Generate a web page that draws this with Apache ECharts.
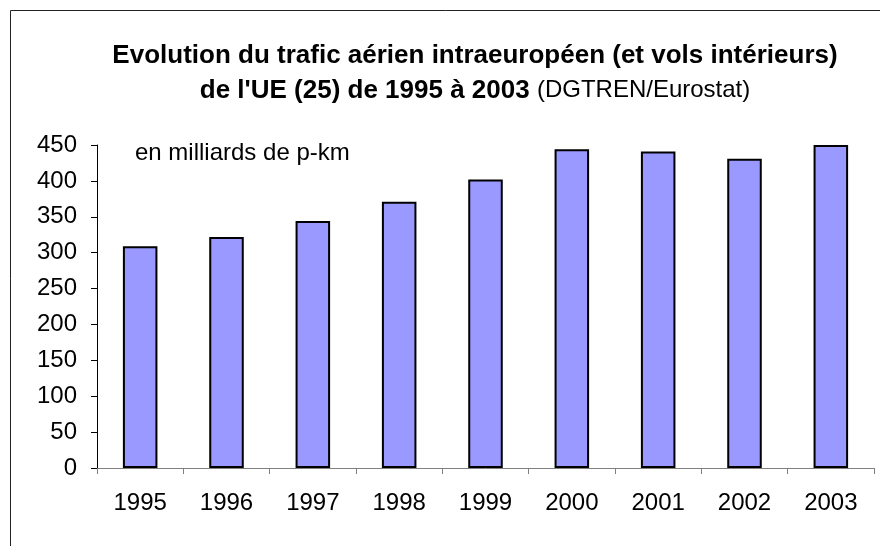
<!DOCTYPE html>
<html>
<head>
<meta charset="utf-8">
<script src="https://cdn.jsdelivr.net/npm/echarts@6/dist/echarts.min.js"></script>
<style>
  html, body { margin: 0; padding: 0; background: #fff; }
  #chart { width: 880px; height: 546px; }
</style>
</head>
<body>
<div id="chart"></div>
<script>
// données
var years = ['1995', '1996', '1997', '1998', '1999', '2000', '2001', '2002', '2003'];
var traffic = [309, 322, 344, 371, 402, 444, 441, 431, 450];
var yTicks = [0, 50, 100, 150, 200, 250, 300, 350, 400, 450];

var chart = echarts.init(document.getElementById('chart'));
chart.setOption({
  animation: false,
  backgroundColor: '#fff',
  title: {
    text: 'Evolution du trafic aérien intraeuropéen (et vols intérieurs)\nde l\'UE (25) de 1995 à 2003 {n|(DGTREN/Eurostat)}',
    left: 470,
    top: 33,
    textAlign: 'center',
    textStyle: {
      fontFamily: 'Liberation Sans',
      fontSize: 26,
      fontWeight: 'bold',
      color: '#000',
      lineHeight: 35,
      rich: {
        n: { fontFamily: 'Liberation Sans', fontSize: 24, fontWeight: 'normal', color: '#000', lineHeight: 35 }
      }
    }
  },
  graphic: [
    {
      type: 'rect',
      shape: { x: 10.5, y: 10.5, width: 900, height: 600 },
      style: { fill: 'none', stroke: '#222', lineWidth: 1 }
    },
    {
      type: 'text',
      left: 135,
      top: 141,
      style: { text: 'en milliards de p-km', font: '24px "Liberation Sans"', fill: '#000' }
    }
  ],
  grid: { left: 97, right: 6, top: 145, bottom: 78 },
  xAxis: {
    type: 'category',
    data: years,
    axisLine: { lineStyle: { color: '#808080', width: 1 } },
    axisTick: { show: true, length: 6, lineStyle: { color: '#808080' } },
    axisLabel: { fontFamily: 'Liberation Sans', fontSize: 24, color: '#000', margin: 23 }
  },
  yAxis: {
    type: 'value',
    min: yTicks[0],
    max: yTicks[yTicks.length - 1],
    interval: 50,
    axisLine: { show: true, lineStyle: { color: '#000', width: 1 } },
    axisTick: { show: true, length: 6, lineStyle: { color: '#000' } },
    splitLine: { show: false },
    axisLabel: { fontFamily: 'Liberation Sans', fontSize: 24, color: '#000', margin: 20 }
  },
  series: [{
    type: 'bar',
    data: traffic,
    barWidth: '40%',
    itemStyle: { color: '#9999FF', borderColor: '#000', borderWidth: 2 }
  }]
});
</script>
</body>
</html>
